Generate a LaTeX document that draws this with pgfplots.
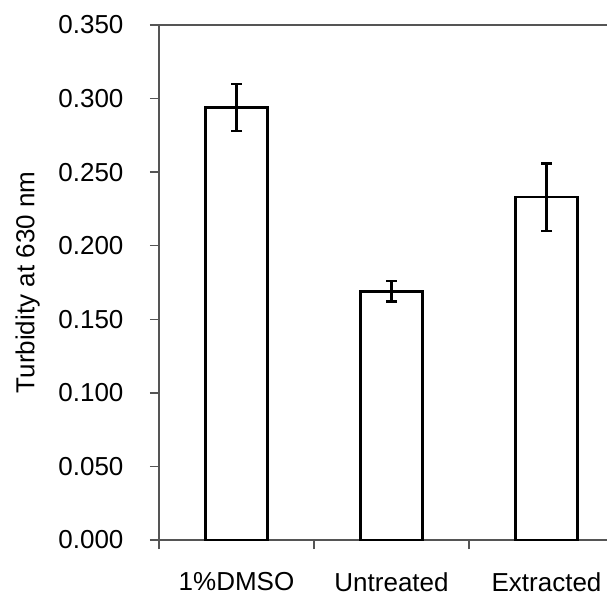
\documentclass[border=0pt]{standalone}
\usepackage{pgfplots}
\pgfplotsset{compat=1.18}
\usepackage{pgfplotstable}
\usepackage{fontspec}
\setmainfont{Liberation Sans}
\definecolor{axisgray}{RGB}{85,85,85}

\pgfplotstableread{
x  y      err
0  0.294  0.016
1  0.169  0.007
2  0.233  0.023
}\turbidity

\begin{document}
\begin{tikzpicture}[font=\fontsize{26}{30}\selectfont]
\begin{axis}[
  at={(0,0)}, anchor=south west,
  scale only axis, width=448pt, height=515pt,
  xmin=-0.5, xmax=2.39, ymin=0, ymax=0.35,
  axis x line=box, axis y line=left,
  axis line style={-, axisgray, line width=1.3pt},
  xtick={0,1,2}, xticklabels={1\%DMSO,Untreated,Extracted},
  minor xtick={-0.5,0.5,1.5},
  xtick pos=bottom,
  ytick={0,0.05,...,0.35},
  tick align=outside,
  major x tick style={draw=none},
  minor x tick style={axisgray, line width=1.3pt},
  major y tick style={axisgray, line width=1.3pt},
  major tick length=9pt, minor tick length=9pt,
  /pgf/number format/.cd, fixed, precision=3, zerofill, assume math mode=true,
  /pgfplots/.cd,
  yticklabel style={xshift=-23pt},
  xticklabel style={yshift=-20pt},
  ylabel={Turbidity at 630 nm},
  every axis y label/.style={at={(axis description cs:-0.328,0.5)}, rotate=90, anchor=north},
  clip=false,
]
\addplot[ybar, bar width=62pt, draw=black, fill=white, line width=2.4pt,
  error bars/.cd, y dir=both, y explicit,
  error bar style={line width=2.4pt, black},
  error mark options={line width=2.4pt, black, mark size=5.5pt, rotate=90}]
  table[x=x, y=y, y error=err] {\turbidity};
\end{axis}
\pgfresetboundingbox
\path[use as bounding box] (-159pt,-62pt) rectangle (449pt,540pt);
\end{tikzpicture}
\end{document}
